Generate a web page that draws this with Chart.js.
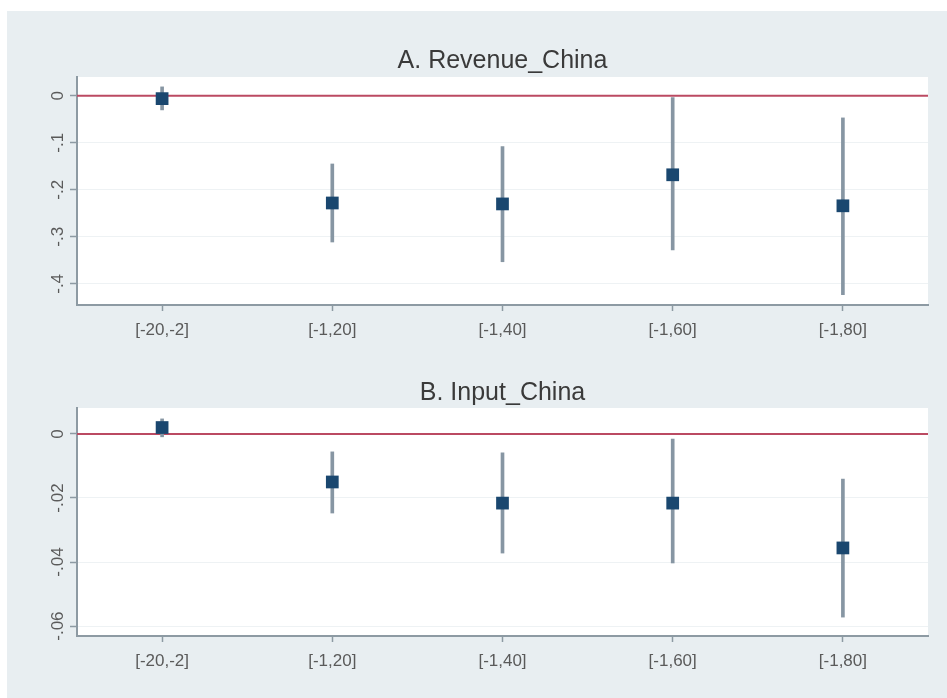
<!DOCTYPE html>
<html>
<head>
<meta charset="utf-8">
<script src="https://cdn.jsdelivr.net/npm/chart.js@4.4.1/dist/chart.umd.min.js"></script>
<style>
  html, body { margin: 0; padding: 0; background: #fff; }
  body { width: 947px; height: 698px; position: relative; overflow: hidden; }
  #bg { position: absolute; left: 7px; top: 11px; right: 0; bottom: 0; background: #e8eef1; }
  canvas { position: absolute; left: 0; }
</style>
</head>
<body>
<div id="bg"></div>
<canvas id="chartA" width="947" height="345" style="top:0px"></canvas>
<canvas id="chartB" width="947" height="353" style="top:345px"></canvas>
<script>
// event windows on the x axis
const windows = ['[-20,-2]', '[-1,20]', '[-1,40]', '[-1,60]', '[-1,80]'];

// A. Revenue_China: coefficient and confidence interval
const revenueCoef = [-0.006, -0.228, -0.230, -0.168, -0.234];
const revenueLow = [-0.030, -0.311, -0.353, -0.328, -0.423];
const revenueHigh = [0.019, -0.145, -0.108, -0.004, -0.047];
const revenueTicks = [0, -0.1, -0.2, -0.3, -0.4];
const revenueTickLabels = ['0', '-.1', '-.2', '-.3', '-.4'];

// B. Input_China
const inputCoef = [0.002, -0.015, -0.0216, -0.0216, -0.0356];
const inputLow = [-0.0009, -0.0247, -0.0372, -0.0403, -0.0572];
const inputHigh = [0.0047, -0.0056, -0.0059, -0.0016, -0.0141];
const inputTicks = [0, -0.02, -0.04, -0.06];
const inputTickLabels = ['0', '-.02', '-.04', '-.06'];

const refLine = 0;

const FONT = "'Liberation Sans', Arial, sans-serif";
const axisColor = '#8d9aa3';
const markerColor = '#1a476f';
const ciColor = '#8796a3';
const zeroColor = '#bb4a62';

function makePanel(id, title, titleY, coef, low, high, ticks, tickLabels, yMin, yMax, padTop, padBottom) {
    const ctx = document.getElementById(id).getContext('2d');

    const panelPlugin = {
        id: 'panel_' + id,
        beforeDraw(chart) {
            const a = chart.chartArea;
            const c = chart.ctx;
            c.save();
            c.fillStyle = '#ffffff';
            c.fillRect(a.left, a.top, a.right - a.left, a.bottom - a.top);
            c.restore();
        },
        beforeDatasetsDraw(chart) {
            // horizontal reference line at zero
            const a = chart.chartArea;
            const y = chart.scales.y.getPixelForValue(refLine);
            const c = chart.ctx;
            c.save();
            c.strokeStyle = zeroColor;
            c.lineWidth = 2;
            c.beginPath();
            c.moveTo(a.left, y);
            c.lineTo(a.right, y);
            c.stroke();
            c.restore();
        },
        afterDraw(chart) {
            const c = chart.ctx;
            const a = chart.chartArea;
            c.save();
            // title
            c.fillStyle = '#3a3a3a';
            c.font = '25px ' + FONT;
            c.textAlign = 'center';
            c.textBaseline = 'middle';
            c.fillText(title, (a.left + a.right) / 2, titleY);
            // rotated y tick labels (Stata style)
            c.fillStyle = '#5a5a5a';
            c.font = '17px ' + FONT;
            c.textBaseline = 'alphabetic';
            ticks.forEach((v, i) => {
                const y = chart.scales.y.getPixelForValue(v);
                c.save();
                c.translate(63, y);
                c.rotate(-Math.PI / 2);
                c.fillText(tickLabels[i], 0, 0);
                c.restore();
            });
            c.restore();
        }
    };

    return new Chart(ctx, {
        type: 'line',
        data: {
            labels: windows,
            datasets: [
                {
                    type: 'line',
                    data: coef,
                    showLine: false,
                    pointStyle: 'rect',
                    pointRadius: 9,
                    pointBorderWidth: 0,
                    pointBackgroundColor: markerColor,
                    pointBorderColor: markerColor,
                    order: 1
                },
                {
                    type: 'bar',
                    data: coef.map((_, i) => [low[i], high[i]]),
                    backgroundColor: ciColor,
                    barThickness: 3,
                    borderSkipped: false,
                    order: 2
                }
            ]
        },
        options: {
            responsive: false,
            animation: false,
            events: [],
            layout: { padding: { top: padTop, left: 67, right: 19, bottom: padBottom } },
            plugins: { legend: { display: false }, tooltip: { enabled: false }, title: { display: false } },
            scales: {
                x: {
                    type: 'category',
                    offset: true,
                    grid: {
                        offset: false,
                        drawOnChartArea: false,
                        drawTicks: true,
                        tickLength: 6,
                        tickColor: axisColor,
                        tickWidth: 1.5
                    },
                    border: { display: true, color: axisColor, width: 2 },
                    ticks: {
                        color: '#5a5a5a',
                        font: { family: FONT, size: 17 },
                        padding: 9,
                        maxRotation: 0,
                        autoSkip: false
                    },
                    afterFit: s => { s.height = 40; }
                },
                y: {
                    type: 'linear',
                    min: yMin,
                    max: yMax,
                    afterBuildTicks: s => { s.ticks = ticks.map(v => ({ value: v })); },
                    grid: {
                        color: '#eef2f4',
                        lineWidth: 1,
                        drawTicks: true,
                        tickLength: 7,
                        tickColor: axisColor,
                        tickWidth: 1.5
                    },
                    border: { display: true, color: axisColor, width: 2 },
                    ticks: { display: false },
                    afterFit: s => { s.width = 10; }
                }
            }
        },
        plugins: [panelPlugin]
    });
}

makePanel('chartA', 'A. Revenue_China', 61, revenueCoef, revenueLow, revenueHigh,
    revenueTicks, revenueTickLabels, -0.445, 0.040, 77, 0);
makePanel('chartB', 'B. Input_China', 48, inputCoef, inputLow, inputHigh,
    inputTicks, inputTickLabels, -0.0631, 0.0081, 63, 22);
</script>
</body>
</html>
